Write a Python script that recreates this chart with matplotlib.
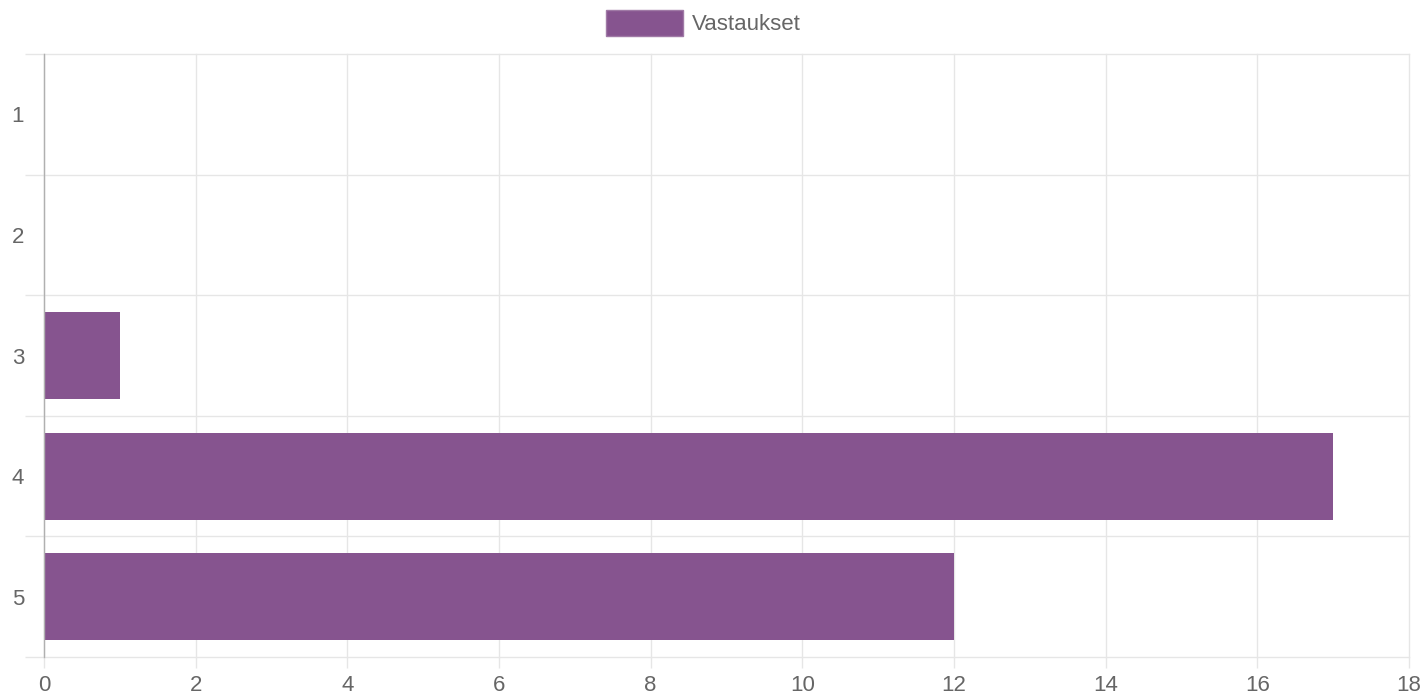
import matplotlib
matplotlib.use('Agg')
from matplotlib import pyplot as plt
from matplotlib.patches import Patch

categories = ['1', '2', '3', '4', '5']
values = [0, 0, 1, 17, 12]
x_ticks = [0, 2, 4, 6, 8, 10, 12, 14, 16, 18]
series_name = 'Vastaukset'

bar_color = '#86548f'
grid_color = '#e6e6e6'
text_color = '#666666'

plt.rcParams['font.family'] = ['Liberation Sans', 'DejaVu Sans']

fig = plt.figure(figsize=(14.22, 6.96), dpi=100)
ax = fig.add_axes([0.03094, 0.05603, 0.95992, 0.86638])

pos = list(range(len(categories)))
ax.barh(pos, values, height=0.72, color=bar_color, zorder=3)

ax.set_xlim(0, 18)
ax.set_ylim(len(categories) - 0.5, -0.5)

# grid lines at category boundaries (chart.js style)
ax.set_yticks(pos)
ax.set_yticklabels(categories)
ax.set_yticks([p - 0.5 for p in range(len(categories) + 1)], minor=True)
ax.set_xticks(x_ticks)
ax.set_xticklabels([str(t) for t in x_ticks])

ax.grid(True, which='minor', axis='y', color=grid_color, linewidth=1, zorder=0)
ax.grid(True, which='major', axis='x', color=grid_color, linewidth=1, zorder=0)

# keep the edge grid lines fully visible
for t in ax.yaxis.get_minor_ticks() + ax.xaxis.get_major_ticks():
    t.gridline.set_clip_on(False)

ax.tick_params(axis='y', which='major', length=0, pad=14.4, labelsize=16, labelcolor=text_color)
ax.tick_params(axis='y', which='minor', length=13.7, width=1, color=grid_color)
ax.tick_params(axis='x', which='major', length=8, width=1, color=grid_color, pad=5,
               labelsize=16, labelcolor=text_color)

for s in ['top', 'right', 'bottom']:
    ax.spines[s].set_visible(False)
ax.spines['left'].set_color('#b0b0b0')
ax.spines['left'].set_linewidth(1)
ax.spines['left'].set_zorder(4)

handle = Patch(facecolor=bar_color, edgecolor='#a07aa6', linewidth=1)
fig.legend([handle], [series_name], loc='center', bbox_to_anchor=(0.4947, 0.967),
           frameon=False, fontsize=16, labelcolor=text_color,
           handlelength=3.5, handleheight=1.45, handletextpad=0.4, borderpad=0)

fig.savefig('out.png', dpi=100)
